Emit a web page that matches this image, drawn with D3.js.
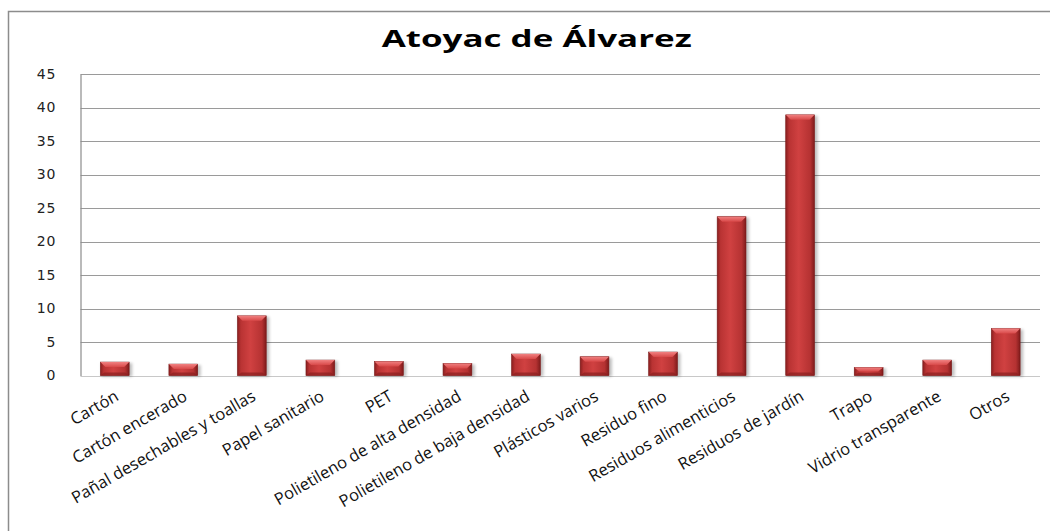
<!DOCTYPE html>
<html>
<head>
<meta charset="utf-8">
<script src="https://cdn.jsdelivr.net/npm/d3@7"></script>
<style>
  body { margin: 0; background: #fff; }
  svg { display: block; }
</style>
</head>
<body>
<div id="chart"></div>
<script>
const chartTitle = "Atoyac de Álvarez";
const categories = [
    "Cartón", "Cartón encerado", "Pañal desechables y toallas", "Papel sanitario", "PET",
    "Polietileno de alta densidad", "Polietileno de baja densidad", "Plásticos varios",
    "Residuo fino", "Residuos alimenticios", "Residuos de jardín", "Trapo",
    "Vidrio transparente", "Otros"
];
const values = [2.0, 1.7, 8.9, 2.3, 2.1, 1.8, 3.2, 2.8, 3.5, 23.7, 38.9, 1.2, 2.3, 7.0];
const yTicks = [0, 5, 10, 15, 20, 25, 30, 35, 40, 45];

const width = 1050;
const height = 531;
const margin = {top: 74, right: 10, bottom: 155.5, left: 80.5};

const svg = d3.select("#chart")
              .append("svg")
              .attr("width", width)
              .attr("height", height);

const defs = svg.append("defs");
const grad = defs.append("linearGradient")
                 .attr("id", "barGrad")
                 .attr("x1", "0%").attr("x2", "100%")
                 .attr("y1", "0%").attr("y2", "0%");
grad.append("stop").attr("offset", "0%").attr("stop-color", "#8a1f1f");
grad.append("stop").attr("offset", "12%").attr("stop-color", "#b93333");
grad.append("stop").attr("offset", "45%").attr("stop-color", "#d04141");
grad.append("stop").attr("offset", "85%").attr("stop-color", "#b53232");
grad.append("stop").attr("offset", "100%").attr("stop-color", "#7e1b1b");

const topGrad = defs.append("linearGradient")
                    .attr("id", "topGrad")
                    .attr("x1", "0%").attr("x2", "0%")
                    .attr("y1", "0%").attr("y2", "100%");
topGrad.append("stop").attr("offset", "0%").attr("stop-color", "#f08080");
topGrad.append("stop").attr("offset", "100%").attr("stop-color", "#d84848");

const blur = defs.append("filter").attr("id", "shadow")
                 .attr("x", "-30%").attr("y", "-10%").attr("width", "160%").attr("height", "130%");
blur.append("feGaussianBlur").attr("stdDeviation", 1.6);

// outer chart border (cut off on the right and bottom)
svg.append("rect")
   .attr("x", 8.5).attr("y", 11.5)
   .attr("width", 1200).attr("height", 700)
   .attr("fill", "none")
   .attr("stroke", "#8c8c8c")
   .attr("stroke-width", 1.5);

const x = d3.scaleBand()
            .domain(categories)
            .range([margin.left, width - margin.right])
            .paddingInner(0.58)
            .paddingOuter(0.29);

const y = d3.scaleLinear()
            .domain([0, 45])
            .range([height - margin.bottom, margin.top]);

// gridlines
svg.append("g")
   .selectAll("line")
   .data(yTicks)
   .enter()
   .append("line")
   .attr("x1", margin.left)
   .attr("x2", width - margin.right)
   .attr("y1", d => Math.round(y(d)) + 0.5)
   .attr("y2", d => Math.round(y(d)) + 0.5)
   .attr("stroke", d => d === 0 ? "#c8c8c8" : "#9a9a9a")
   .attr("stroke-width", 1.2);

// y axis
const yAxis = svg.append("g")
                 .attr("transform", "translate(" + margin.left + ",0)")
                 .call(d3.axisLeft(y).tickValues(yTicks).tickSize(0).tickPadding(24));
yAxis.select(".domain").attr("stroke", "#8c8c8c").attr("stroke-width", 1.2);
yAxis.selectAll("text")
     .style("font-family", "'DejaVu Sans', Verdana, sans-serif")
     .style("font-size", "14px")
     .style("letter-spacing", "1px")
     .attr("fill", "#222");

// bars
const bars = svg.append("g")
                .selectAll("g.bar")
                .data(values)
                .enter()
                .append("g")
                .attr("class", "bar");

bars.append("rect")
    .attr("x", (d, i) => x(categories[i]) + 1)
    .attr("y", d => y(d) + 1)
    .attr("width", x.bandwidth() + 2)
    .attr("height", d => y(0) - y(d))
    .attr("fill", "#000")
    .attr("opacity", 0.25)
    .attr("filter", "url(#shadow)");

bars.append("rect")
    .attr("x", (d, i) => x(categories[i]))
    .attr("y", d => y(d))
    .attr("width", x.bandwidth())
    .attr("height", d => y(0) - y(d))
    .attr("fill", "url(#barGrad)")
    .attr("stroke", "#7a1818")
    .attr("stroke-width", 0.6);

// top bevel
bars.append("path")
    .attr("d", (d, i) => {
        const x0 = x(categories[i]);
        const x1 = x0 + x.bandwidth();
        const t = y(d);
        const b = Math.min(5, (y(0) - y(d)) / 2);
        return "M" + x0 + "," + t + "L" + x1 + "," + t + "L" + (x1 - 5) + "," + (t + b) +
               "L" + (x0 + 5) + "," + (t + b) + "Z";
    })
    .attr("fill", "url(#topGrad)");

// bottom bevel
bars.append("path")
    .attr("d", (d, i) => {
        const x0 = x(categories[i]);
        const x1 = x0 + x.bandwidth();
        const bt = y(0);
        const b = Math.min(3, (y(0) - y(d)) / 3);
        return "M" + x0 + "," + bt + "L" + x1 + "," + bt + "L" + (x1 - 4) + "," + (bt - b) +
               "L" + (x0 + 4) + "," + (bt - b) + "Z";
    })
    .attr("fill", "#8a2020")
    .attr("opacity", 0.7);

// category labels
svg.append("g")
   .selectAll("text")
   .data(categories)
   .enter()
   .append("text")
   .attr("transform", d => "translate(" + (x(d) + x.bandwidth() / 2 + 5) + "," + (y(0) + 24) + ")rotate(-30)")
   .attr("text-anchor", "end")
   .style("font-family", "'Open Sans', sans-serif")
   .style("font-size", "16.5px")
   .attr("fill", "#111")
   .text(d => d);

// title
svg.append("text")
   .attr("x", 536.7)
   .attr("y", 47)
   .attr("text-anchor", "middle")
   .attr("textLength", 310)
   .attr("lengthAdjust", "spacingAndGlyphs")
   .style("font-family", "'Open Sans', sans-serif")
   .style("font-weight", "bold")
   .style("font-size", "24px")
   .attr("fill", "#000")
   .text(chartTitle);
</script>
</body>
</html>
